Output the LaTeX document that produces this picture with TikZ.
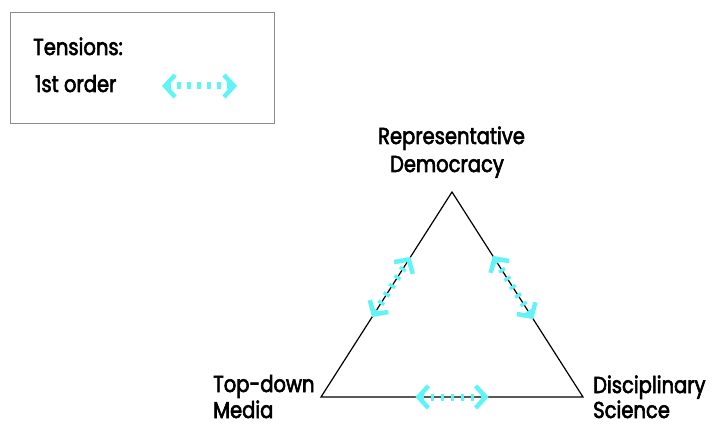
\documentclass[tikz,border=0pt]{standalone}
\usepackage{fontspec}
\setmainfont{Poppins}[FakeStretch=0.85,FakeBold=2.6]
\usetikzlibrary{arrows.meta,calc}
\definecolor{tcyan}{RGB}{96,244,246}
\definecolor{boxgray}{RGB}{140,140,140}
\tikzset{
  lbl/.style={inner sep=0pt, font=\fontsize{23}{27}\selectfont},
  tensarrow/.style={draw=tcyan, line width=7pt, dash pattern=on 3.3pt off 6.7pt,
    {Straight Barb[length=10pt,width=22pt,line width=4.5pt]}-{Straight Barb[length=10pt,width=22pt,line width=4.5pt]}},
  triside/.style={draw=black, line width=1.2pt, line join=miter}
}
\begin{document}
\begin{tikzpicture}[x=1pt,y=-1pt]
\useasboundingbox (0,0) rectangle (721,425);
% legend
\node[draw=boxgray, line width=1pt, minimum width=264pt, minimum height=111pt,
      anchor=north west, inner sep=0pt] (legend) at (10,12) {};
\node[lbl, anchor=base west] (tens) at (33,55) {Tensions:};
\node[lbl, anchor=base west] (first) at (35,92) {1st order};
\coordinate (la) at (162,86);
\coordinate (lb) at (237,86);
\draw[tensarrow] (la) -- (lb);
% triangle
\coordinate (T) at (452,192);
\coordinate (BL) at (321,397);
\coordinate (BR) at (583,397);
\draw[triside] (T) -- (BR) -- (BL) -- cycle;
% labels
\node[lbl, anchor=base] (rep1) at (451.5,144) {Representative};
\node[lbl, anchor=base] (rep2) at (447,172) {Democracy};
\node[lbl, anchor=base west] (top1) at (213,392) {Top-down};
\node[lbl, anchor=base west] (top2) at (213,418) {Media};
\node[lbl, anchor=base west] (dis1) at (593,393) {Disciplinary};
\node[lbl, anchor=base west] (dis2) at (593,418) {Science};
% tensions
\coordinate (l1) at ($(BL)!0.39!(T)$);
\coordinate (l2) at ($(BL)!0.683!(T)$);
\coordinate (r1) at ($(T)!0.312!(BR)$);
\coordinate (r2) at ($(T)!0.62!(BR)$);
\coordinate (b1) at ($(BL)!0.36!(BR)$);
\coordinate (b2) at ($(BL)!0.64!(BR)$);
\draw[tensarrow] (l1) -- (l2);
\draw[tensarrow] (r1) -- (r2);
\draw[tensarrow] (b1) -- (b2);
\end{tikzpicture}
\end{document}
